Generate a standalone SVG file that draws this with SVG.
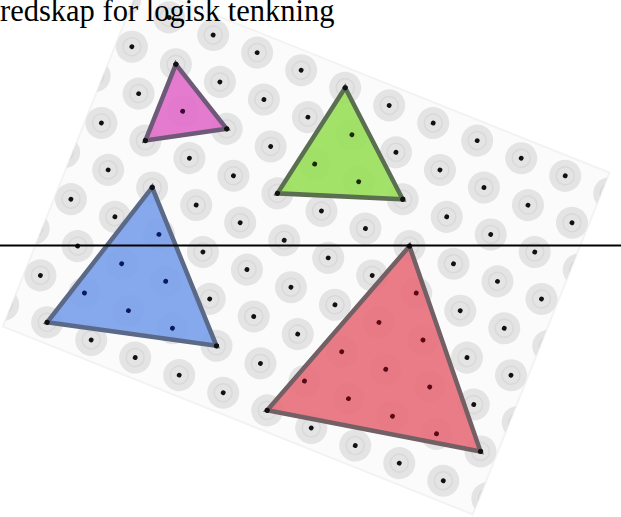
<svg xmlns="http://www.w3.org/2000/svg" xmlns:xlink="http://www.w3.org/1999/xlink" width="621" height="517" viewBox="0 0 621 517">
<style>
.board{fill:#fbfbfb;stroke:#f3f3f3;stroke-width:2}
.halo{fill:#e4e4e4}
.ring{fill:none;stroke:#d9d9d9;stroke-width:1.5}
.dot{fill:#111}
.tri{stroke-width:4.5;stroke-linejoin:miter;fill-opacity:0.93}
.vtx{fill:#111}
</style>
<defs>
<g id="peg"><circle r="16" class="halo"/><circle r="9" class="ring"/><circle r="2.4" class="dot"/></g>
<g id="rowOdd">
<use href="#peg" x="116.1"/><use href="#peg" x="163.5"/><use href="#peg" x="210.9"/><use href="#peg" x="258.3"/><use href="#peg" x="305.7"/><use href="#peg" x="353.1"/><use href="#peg" x="400.5"/><use href="#peg" x="447.9"/><use href="#peg" x="495.3"/><use href="#peg" x="542.7"/><use href="#peg" x="590.1"/><use href="#peg" x="637.5"/>
</g>
<g id="rowEven">
<use href="#peg" x="139.8"/><use href="#peg" x="187.2"/><use href="#peg" x="234.6"/><use href="#peg" x="282"/><use href="#peg" x="329.4"/><use href="#peg" x="376.8"/><use href="#peg" x="424.2"/><use href="#peg" x="471.6"/><use href="#peg" x="519"/><use href="#peg" x="566.4"/><use href="#peg" x="613.8"/>
</g>
<clipPath id="boardClip"><rect x="124" y="-66" width="506" height="368"/></clipPath>
</defs>
<g id="geoboard" transform="rotate(21.8)">
<rect class="board" x="124" y="-66" width="506" height="368"/>
<g id="pegs" clip-path="url(#boardClip)">
<use href="#rowOdd" y="-46.65"/>
<use href="#rowEven" y="-5.6"/>
<use href="#rowOdd" y="35.45"/>
<use href="#rowEven" y="76.5"/>
<use href="#rowOdd" y="117.55"/>
<use href="#rowEven" y="158.6"/>
<use href="#rowOdd" y="199.65"/>
<use href="#rowEven" y="240.7"/>
<use href="#rowOdd" y="281.75"/>
</g>
<g id="triangle-magenta">
<polygon class="tri" points="187.2,-5.6 258.3,35.45 187.2,76.5" fill="#e271cb" stroke="#6e5a78"/>
<circle r="2.4" cx="210.9" cy="35.45" fill="#3a0a35"/>
<circle class="vtx" r="2.6" cx="187.2" cy="-5.6"/><circle class="vtx" r="2.6" cx="258.3" cy="35.45"/><circle class="vtx" r="2.6" cx="187.2" cy="76.5"/>
</g>
<g id="triangle-green">
<polygon class="tri" points="353.1,-46.65 447.9,35.45 329.4,76.5" fill="#9ce05c" stroke="#5a6e50"/>
<g fill="#1a2a08"><circle r="2.4" cx="376.8" cy="-5.6"/><circle r="2.4" cx="353.1" cy="35.45"/><circle r="2.4" cx="400.5" cy="35.45"/></g>
<circle class="vtx" r="2.6" cx="353.1" cy="-46.65"/><circle class="vtx" r="2.6" cx="447.9" cy="35.45"/><circle class="vtx" r="2.6" cx="329.4" cy="76.5"/>
</g>
<g id="triangle-blue">
<polygon class="tri" points="210.9,117.55 329.4,240.7 163.5,281.75" fill="#7da3ec" stroke="#5a6987"/>
<g fill="#0a1a5a"><circle r="2.4" cx="234.6" cy="158.6"/><circle r="2.4" cx="210.9" cy="199.65"/><circle r="2.4" cx="258.3" cy="199.65"/><circle r="2.4" cx="187.2" cy="240.7"/><circle r="2.4" cx="234.6" cy="240.7"/><circle r="2.4" cx="282" cy="240.7"/></g>
<circle class="vtx" r="2.6" cx="210.9" cy="117.55"/><circle class="vtx" r="2.6" cx="329.4" cy="240.7"/><circle class="vtx" r="2.6" cx="163.5" cy="281.75"/>
</g>
<g id="triangle-red">
<polygon class="tri" points="471.6,76.5 613.8,240.7 400.5,281.75" fill="#e8727f" stroke="#736064"/>
<g fill="#5a0a14"><circle r="2.4" cx="495.3" cy="117.55"/><circle r="2.4" cx="471.6" cy="158.6"/><circle r="2.4" cx="519" cy="158.6"/><circle r="2.4" cx="447.9" cy="199.65"/><circle r="2.4" cx="495.3" cy="199.65"/><circle r="2.4" cx="542.7" cy="199.65"/><circle r="2.4" cx="424.2" cy="240.7"/><circle r="2.4" cx="471.6" cy="240.7"/><circle r="2.4" cx="519" cy="240.7"/><circle r="2.4" cx="566.4" cy="240.7"/></g>
<circle class="vtx" r="2.6" cx="471.6" cy="76.5"/><circle class="vtx" r="2.6" cx="613.8" cy="240.7"/><circle class="vtx" r="2.6" cx="400.5" cy="281.75"/>
</g>
</g>
<text id="title" x="0" y="21" font-family="'Liberation Serif', 'Times New Roman', serif" font-size="30.5" fill="#000">redskap for logisk tenkning</text>
<line id="rule" x1="0" y1="245.5" x2="621" y2="245.5" stroke="#000" stroke-width="2"/>
</svg>
